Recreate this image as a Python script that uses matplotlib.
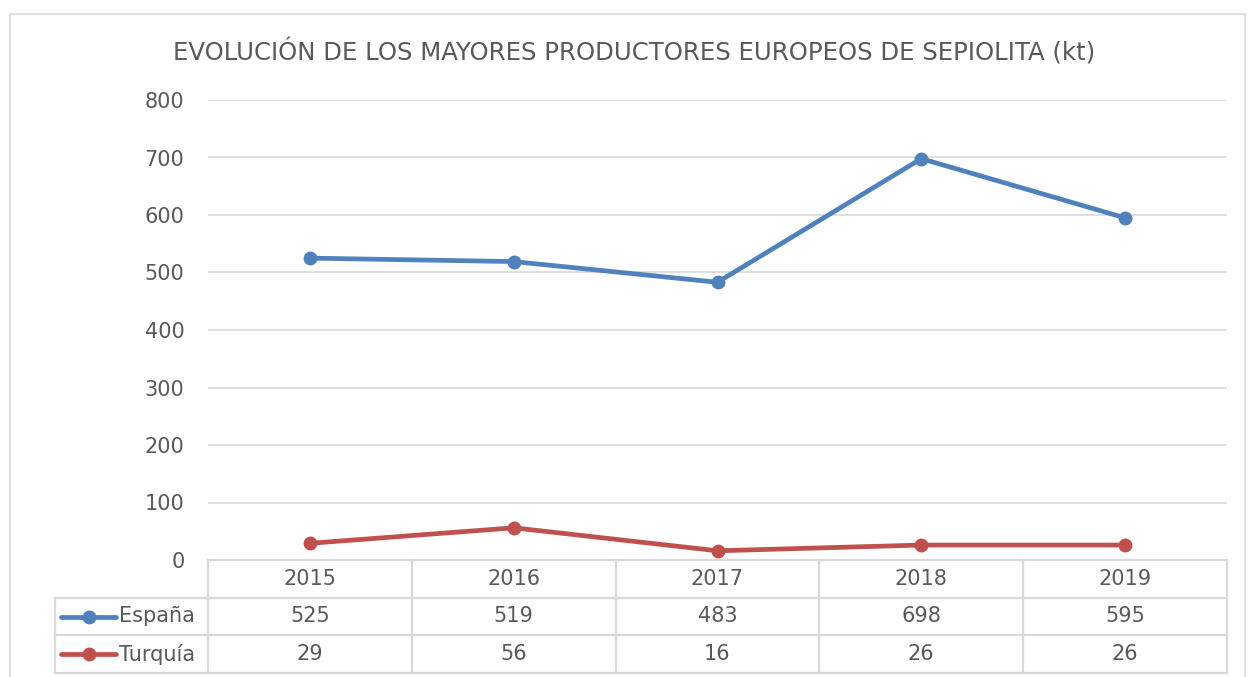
import numpy as np
import matplotlib.pyplot as plt
from matplotlib.patches import Rectangle
from matplotlib.lines import Line2D

# datos
years = ['2015', '2016', '2017', '2018', '2019']
espana = [525, 519, 483, 698, 595]
turquia = [29, 56, 16, 26, 26]
series = [('España', espana, '#4F81BD'), ('Turquía', turquia, '#C0504D')]
yticks = [0, 100, 200, 300, 400, 500, 600, 700, 800]

W, H = 1249, 677
txt = '#595959'
grid = '#D9D9D9'
plt.rcParams['font.family'] = ['DejaVu Sans']

fig = plt.figure(figsize=(W / 100, H / 100), dpi=100)

def fx(px):
    return px / W

def fy(py):
    return 1 - py / H

# marco exterior
fig.patches.append(Rectangle((fx(10), fy(690)), fx(1235), (690 - 14) / H,
                             transform=fig.transFigure, fill=False,
                             edgecolor=grid, lw=1.2))

# area de trazado
x0, x1 = 208, 1227
y_top, y_bot = 100, 560
ax = fig.add_axes([fx(x0), fy(y_bot), fx(x1 - x0), (y_bot - y_top) / H])
x = np.arange(len(years))
for name, vals, col in series:
    ax.plot(x, vals, color=col, lw=3.4, marker='o', ms=9, solid_capstyle='round')
ax.set_xlim(-0.5, len(years) - 0.5)
ax.set_ylim(0, 800)
ax.set_yticks(yticks)
ax.yaxis.grid(True, color=grid, lw=1.2)
ax.set_axisbelow(True)
for s in ax.spines.values():
    s.set_visible(False)
ax.set_xticks([])
ax.tick_params(axis='y', length=0, pad=17, labelsize=15, labelcolor=txt)

fig.text(fx(634), fy(52), 'EVOLUCIÓN DE LOS MAYORES PRODUCTORES EUROPEOS DE SEPIOLITA (kt)',
         ha='center', va='center', fontsize=17.6, color=txt)

# tabla de datos
tab = fig.add_axes([fx(x0), fy(673), fx(x1 - x0), (673 - 560) / H])
tab.set_xlim(-0.5, len(years) - 0.5)
tab.set_ylim(3, 0)
tab.axis('off')
left = -0.5 - (x0 - 55) / ((x1 - x0) / len(years))
lk = dict(color=grid, lw=1.6, clip_on=False)
# lineas horizontales
tab.plot([-0.5, 4.5], [0, 0], **lk)
for r in (1, 2, 3):
    tab.plot([left, 4.5], [r, r], **lk)
# lineas verticales
for c in range(len(years) + 1):
    tab.plot([c - 0.5, c - 0.5], [0, 3], **lk)
tab.plot([left, left], [1, 3], **lk)

fs = 15
for i, yr in enumerate(years):
    tab.text(i, 0.5, yr, ha='center', va='center', fontsize=fs, color=txt)
for r, (name, vals, col) in enumerate(series):
    yy = r + 1.5
    for i, v in enumerate(vals):
        tab.text(i, yy, str(v), ha='center', va='center', fontsize=fs, color=txt)
    span = -0.5 - left
    tab.add_line(Line2D([left + 0.04 * span, left + 0.40 * span], [yy, yy],
                        color=col, lw=3.4, solid_capstyle='round', clip_on=False))
    tab.plot([left + 0.22 * span], [yy], 'o', color=col, ms=9, clip_on=False)
    tab.text(left + 0.42 * span, yy, name, ha='left', va='center',
             fontsize=fs, color=txt)

fig.savefig('out.png', dpi=100)
